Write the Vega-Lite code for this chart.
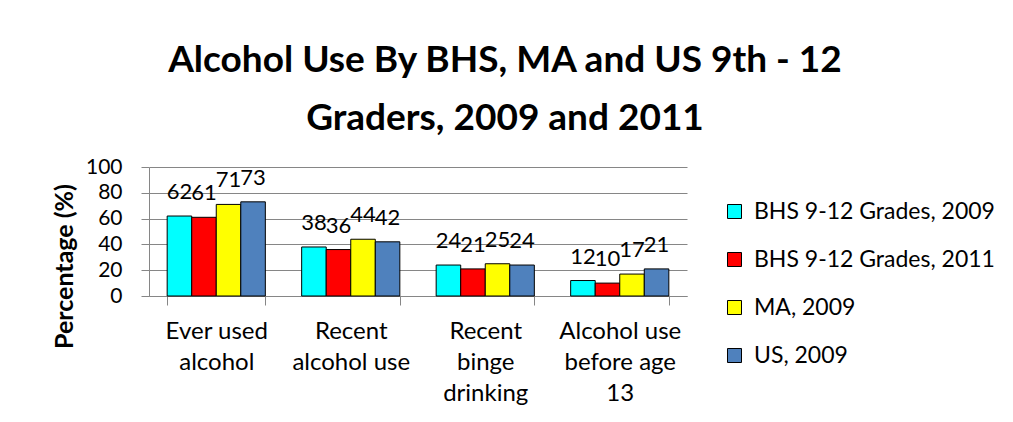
{
  "$schema": "https://vega.github.io/schema/vega-lite/v6.json",
  "autosize": "none",
  "width": 538,
  "height": 129,
  "padding": {"left": 149, "top": 167, "right": 326, "bottom": 126},
  "background": "white",
  "config": {
    "font": "Lato",
    "view": {"stroke": null},
    "text": {"font": "Lato"}
  },
  "title": {
    "text": ["Alcohol Use By BHS, MA and US 9th - 12", "Graders, 2009 and 2011"],
    "anchor": "middle",
    "frame": "group",
    "dx": 87,
    "offset": 18,
    "fontSize": 37,
    "fontWeight": "bold",
    "lineHeight": 58,
    "color": "#000000",
    "font": "Lato"
  },
  "data": {
    "values": [
      {"measure": "Ever used alcohol", "group": "BHS 9-12 Grades, 2009", "pct": 62},
      {"measure": "Ever used alcohol", "group": "BHS 9-12 Grades, 2011", "pct": 61},
      {"measure": "Ever used alcohol", "group": "MA, 2009", "pct": 71},
      {"measure": "Ever used alcohol", "group": "US, 2009", "pct": 73},
      {"measure": "Recent alcohol use", "group": "BHS 9-12 Grades, 2009", "pct": 38},
      {"measure": "Recent alcohol use", "group": "BHS 9-12 Grades, 2011", "pct": 36},
      {"measure": "Recent alcohol use", "group": "MA, 2009", "pct": 44},
      {"measure": "Recent alcohol use", "group": "US, 2009", "pct": 42},
      {"measure": "Recent binge drinking", "group": "BHS 9-12 Grades, 2009", "pct": 24},
      {"measure": "Recent binge drinking", "group": "BHS 9-12 Grades, 2011", "pct": 21},
      {"measure": "Recent binge drinking", "group": "MA, 2009", "pct": 25},
      {"measure": "Recent binge drinking", "group": "US, 2009", "pct": 24},
      {"measure": "Alcohol use before age 13", "group": "BHS 9-12 Grades, 2009", "pct": 12},
      {"measure": "Alcohol use before age 13", "group": "BHS 9-12 Grades, 2011", "pct": 10},
      {"measure": "Alcohol use before age 13", "group": "MA, 2009", "pct": 17},
      {"measure": "Alcohol use before age 13", "group": "US, 2009", "pct": 21}
    ]
  },
  "encoding": {
    "x": {
      "field": "measure",
      "type": "nominal",
      "sort": null,
      "scale": {"paddingInner": 0.27, "paddingOuter": 0.135},
      "axis": {
        "title": null,
        "labelAngle": 0,
        "labelFontSize": 24,
        "labelColor": "#000000",
        "labelFont": "Lato",
        "labelLineHeight": 31,
        "labelBaseline": "top",
        "labelPadding": 14,
        "labelExpr": "datum.extra ? '' : datum.value == 'Ever used alcohol' ? ['Ever used', 'alcohol'] : datum.value == 'Recent alcohol use' ? ['Recent', 'alcohol use'] : datum.value == 'Recent binge drinking' ? ['Recent', 'binge', 'drinking'] : ['Alcohol use', 'before age', '13']",
        "tickBand": "extent",
        "tickSize": 9,
        "tickColor": "#868686",
        "domainColor": "#868686",
        "labelLimit": 200
      }
    },
    "xOffset": {"field": "group", "type": "nominal", "sort": null, "scale": {"paddingInner": 0, "paddingOuter": 0}},
    "y": {
      "field": "pct",
      "type": "quantitative",
      "scale": {"domain": [0, 100], "nice": false},
      "axis": {
        "values": [0, 20, 40, 60, 80, 100],
        "title": "Percentage  (%)",
        "titleFontSize": 25,
        "titleFontWeight": "bold",
        "titleColor": "#000000",
        "titleFont": "Lato",
        "titleX": -85,
        "titleY": 99,
        "titleBaseline": "middle",
        "titleAngle": -90,
        "labelFontSize": 21,
        "labelColor": "#000000",
        "labelFont": "Lato",
        "labelPadding": 19,
        "tickSize": 8,
        "tickColor": "#868686",
        "domainColor": "#868686",
        "gridColor": "#868686",
        "gridWidth": 1
      }
    }
  },
  "layer": [
    {
      "mark": {"type": "bar", "stroke": "#000000", "strokeWidth": 1},
      "encoding": {
        "color": {
          "field": "group",
          "type": "nominal",
          "sort": null,
          "scale": {
            "domain": ["BHS 9-12 Grades, 2009", "BHS 9-12 Grades, 2011", "MA, 2009", "US, 2009"],
            "range": ["#00FFFF", "#FF0000", "#FFFF00", "#4F81BD"]
          },
          "legend": {
            "title": null,
            "orient": "none",
            "legendX": 574,
            "legendY": 33,
            "symbolType": "square",
            "symbolSize": 196,
            "symbolStrokeColor": "#000000",
            "symbolStrokeWidth": 1,
            "symbolOpacity": 1,
            "labelFontSize": 23,
            "labelColor": "#000000",
            "labelFont": "Lato",
            "labelOffset": 8,
            "rowPadding": 24,
            "labelLimit": 300
          }
        }
      }
    },
    {
      "mark": {"type": "text", "baseline": "alphabetic", "dy": -17, "fontSize": 22, "color": "#000000", "font": "Lato"},
      "encoding": {
        "text": {"field": "pct", "type": "quantitative"}
      }
    }
  ]
}
